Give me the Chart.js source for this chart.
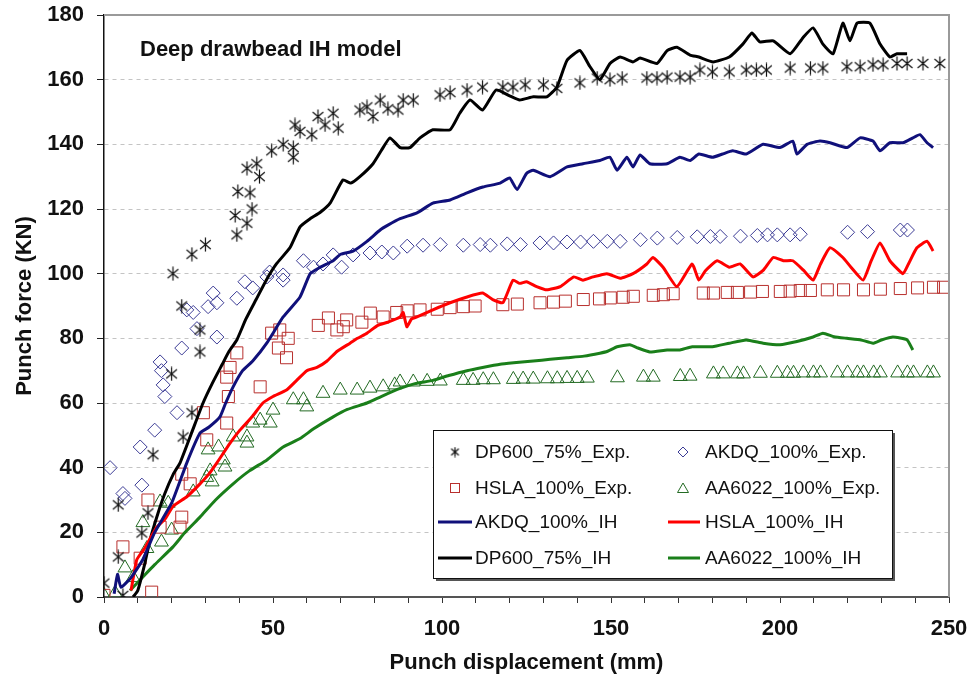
<!DOCTYPE html>
<html>
<head>
<meta charset="utf-8">
<script src="https://cdn.jsdelivr.net/npm/chart.js@4.4.0/dist/chart.umd.min.js"></script>
<style>
  html, body { margin: 0; padding: 0; background: #fff; }
</style>
</head>
<body>
<canvas id="chart" width="976" height="688"></canvas>
<script>
  // ---- data: [displacement mm, force KN] ----
  const dp600Exp = [[0,4.3],[4.2,12.4],[4.2,28.5],[5.6,0.5],[11.2,19.8],[13,26],[14.5,44],[20,69],[20.4,100],[23,90],[23.4,49.5],[26,57],[26,106],[28.4,75.8],[28.4,82.6],[30,109],[38.8,118],[39.3,112],[39.6,125.4],[42.3,115.6],[42.3,132.6],[43.2,125],[43.8,120],[45.2,134],[46,130],[49.6,138],[53,140],[56,139],[56,136],[56.5,146],[58,144],[61.5,143],[63.3,148.6],[65.4,146],[67.8,149.6],[69.3,145],[75.7,150.6],[77.8,151.6],[79.6,148.6],[81.7,153.7],[84,151],[87,150.6],[88.5,153.7],[91.5,153.7],[99.4,155.3],[102.4,156],[107.4,156.8],[112,157.7],[118,157.7],[121,157.7],[124.6,158.4],[130,158.4],[134,157.3],[140.8,159],[145.9,160.5],[149.7,160],[153.3,160.5],[160.6,160.5],[163.6,160.5],[166.6,160.8],[170.4,160.8],[173.4,160.8],[176.3,163],[180,162.4],[185,162.4],[190,163],[193,163],[196,163],[203,163.6],[209,163.6],[212.7,163.6],[219.8,164],[223.7,164],[227.5,164.6],[230.5,164.6],[234.6,165],[237.6,165],[242.3,165],[247.3,165]];
  const akdqExp = [[1.8,40],[5.6,32],[6.2,30.5],[10.7,46.4],[11.2,34.6],[15,51.6],[16.6,72.7],[17,70],[17.5,65.6],[18,62],[21.6,57],[23,77],[24.5,88.8],[26.4,88],[27.5,83],[30.8,89.8],[32.3,94],[33.4,91],[33.4,80.4],[39.3,92.4],[41.7,97.5],[44,95.6],[48.2,99],[49,100.5],[53,99.6],[53,98],[59,104],[62,102],[64.8,103],[67.8,105.8],[70.3,102],[73.7,105.8],[78.7,106.4],[82.2,106.7],[85.6,106.4],[89.7,108.5],[94.4,108.8],[99.5,109],[106.3,108.8],[111.3,109],[114.3,108.8],[119.3,109.2],[123.2,109],[129,109.5],[133,109.5],[137,109.8],[141,109.8],[144.8,110],[148.9,110],[152.7,110],[158.7,110.5],[163.7,111],[169.6,111.2],[175.5,111.4],[179.4,111.5],[182.3,111.5],[188.3,111.6],[193.3,111.8],[196.3,112],[199.2,112],[203,112],[206,112.2],[220,112.8],[225.9,113],[235.6,113.5],[237.7,113.5]];
  const hslaExp = [[0,0.5],[5.6,15.5],[10.7,12],[13,30],[14.1,1.5],[16.6,21.6],[22.5,21.6],[23,24.7],[23,38],[25.5,35],[29.4,57],[30.4,48.6],[36.3,53.8],[36.3,68],[36.8,62],[37.3,71],[39.3,75.5],[46.2,65],[49.6,81.6],[51.6,77],[52,82.6],[54,74],[54.5,80],[63.4,84],[66.4,86.3],[68.9,82.6],[70.8,83.6],[71.8,85.7],[76.3,85],[78.8,87.8],[82.6,86.6],[86.6,88],[89.7,88.5],[93.5,88.8],[98.6,89],[102.4,89.5],[106.3,89.8],[109.8,90],[118,90.4],[122.3,90.6],[129,91],[133,91.2],[136.5,91.5],[141.8,92],[146.6,92.2],[149.8,92.5],[153.6,92.7],[156.6,93],[162.5,93.3],[165.5,93.5],[168.4,93.8],[177.3,94],[180.3,94],[184.4,94.2],[187.4,94.2],[191.3,94.3],[194.8,94.5],[200.1,94.5],[203,94.6],[206,94.8],[209,94.8],[214,95],[218.8,95],[224.7,95],[229.7,95.2],[235.6,95.4],[240.7,95.6],[245.4,95.8],[248.4,95.8]];
  const aa6022Exp = [[0,0.5],[3.3,1.2],[6.2,9],[8.6,6],[11.5,23],[12.7,15],[16.6,29.4],[17,17],[19,29],[20,20.7],[26.4,32.5],[30.4,37],[30.8,45.5],[31.4,39],[32,35.6],[33.9,46.4],[35.3,42.4],[35.8,40.2],[38.2,49.5],[42.3,47.6],[42.3,49.5],[44,53.8],[46.2,54.7],[49.2,53.8],[50,57.8],[56,61],[59,61],[60,58.8],[64.8,63],[69.9,64],[74.9,64],[78.7,64.6],[82.6,65],[86,65.6],[87.6,66.5],[91.5,66.5],[95.6,66.7],[99.5,66.8],[106.3,67],[109.2,67],[112.2,67.2],[115.2,67.2],[121.1,67.3],[124,67.4],[127,67.4],[131.2,67.5],[134.1,67.5],[137,67.6],[140,67.6],[143,67.7],[151.9,67.8],[159.6,68],[162.5,68],[170.5,68.2],[173.4,68.3],[180.3,69],[183.2,69],[187.4,69],[189.2,69],[194.2,69.2],[199.2,69.2],[202.2,69.2],[204,69.2],[206.9,69.3],[209.9,69.3],[212,69.3],[217,69.3],[220,69.3],[222.9,69.3],[224.7,69.3],[227.7,69.3],[229.7,69.3],[234.8,69.3],[237.7,69.3],[239.5,69.3],[243.6,69.3],[245.4,69.3]];

  const akdqIH = [[3,1],[4,7],[5,3],[8,6],[11.5,11.6],[15,20],[20,29],[24.5,41.5],[28.4,50.7],[31,52.5],[34.3,55.7],[36,60],[38.2,65],[41,70],[44,73],[48.2,78.6],[53,86.6],[58,92.8],[61,100],[64,102],[67.8,104],[70,106],[73.7,107],[77.8,110],[81.7,113.5],[84,115],[87.6,117],[92.6,118.8],[97.3,121.8],[102.4,122.8],[107.4,125],[112.1,126.8],[117.2,128],[120,129.6],[122.2,126],[125,131],[127,132],[132,130],[137,133],[141.7,134],[146.7,135],[149.7,136],[151.8,132],[154.7,136],[156.5,133],[158.6,136.7],[161.5,134],[166.6,134],[170.4,136],[173.4,135],[176,137],[180,136],[183,137],[186,138],[190,137],[195,140],[200,139],[203.8,141],[205,137],[208,140],[211.8,141],[214.8,140.5],[219.8,139],[223.7,142],[227.5,141],[229.6,138],[232.5,140.5],[236.4,140.5],[239.3,142],[241.4,143],[243.5,140.5],[245.3,139]];
  const hslaIH = [[8,2],[9.7,11.5],[12,15],[15.6,21.6],[18,24],[20.4,28],[24.5,31],[28.4,35],[31,38],[33.4,41.5],[37.3,47.6],[40.2,51.6],[44,56],[47,60],[50,62],[54,64],[57,67],[60,70],[63,71],[66,73],[69,76],[72.8,78.5],[75,80],[77.8,81.6],[81,84],[84,85],[87.6,86.6],[88.5,88],[89.6,83.6],[91,86],[92.6,86.6],[97.3,88.8],[102.4,91],[107.4,92.8],[112,94],[115,92],[118,91],[121,98],[123,97],[125,97.5],[128,96],[131,95],[135,96],[139,99],[141.7,98],[144.7,99],[148.8,100],[152.7,98.6],[156.5,100],[160.6,103],[162.4,105],[165.4,102],[169.5,96],[174,103],[176,98],[178,101],[181.4,104],[185,102],[188.2,103],[192,99],[195,101],[198,105],[201,104],[203.8,104],[207,101],[209.8,98],[212,103],[214.8,108],[218.6,105],[221,102],[224.6,98],[227,104],[229.6,109.5],[232.5,104],[236.4,100],[238,103],[240.5,108],[243.5,110],[245.3,107]];
  const dp600IH = [[8.6,0],[10,2],[12,10],[13.6,17.6],[16,26],[18,32],[20.5,38],[22.5,41.5],[26,51],[29.3,60],[32,66],[35,72],[37,76],[39.3,79.5],[42,86],[45,92],[48,98],[51,103],[55,108],[58,114.5],[61,117],[64,119],[67,122],[70.7,129],[73,128],[75.7,130],[79.6,134],[82,138],[84.6,142],[87.6,139],[90.5,139],[93.5,142],[97.3,144.5],[102.4,144.5],[105.3,149.7],[108.3,153.7],[112,150.6],[116,156.8],[120,155],[123,153.7],[127,154.7],[131,154.7],[134,157.7],[137,166],[140.8,169],[143.8,164],[146.7,160],[149.7,165],[152.7,167],[156.5,165.5],[158.6,166.7],[163.6,165],[166.6,169],[169.5,170],[173.4,167.6],[176,167],[180.2,165.5],[185,167],[189,171],[191.7,174.4],[194,171.7],[198,172],[203,168],[206.8,173],[209.8,176],[212.7,171],[215.7,168],[218.6,177.5],[220.7,172],[222.8,177.5],[226.6,177.5],[229.6,171],[232.5,167],[234.6,168],[237.6,168]];
  const aa6022IH = [[7.7,2],[11.5,6.2],[15,10],[20.4,15.5],[24,20],[28.4,24.7],[33,30],[38.2,35],[43,39],[48.2,42.4],[53,46.4],[58,49],[62,52],[67.8,55.7],[72,58],[77.8,60],[82,62],[87.6,64.5],[92,66],[97.3,67],[102,68.5],[107.4,70],[112,71],[117.2,72],[122,72.5],[127,73],[132,73.5],[137,74],[142,74.5],[146.7,75.4],[149,76],[151.8,77.4],[155.6,78],[158,77],[161.5,75.8],[166.6,76.4],[170.4,76.4],[174,77.4],[180,77.4],[185,78.5],[190,79.5],[195,78.5],[200,78],[205,79],[209.8,80.4],[212.7,81.6],[216,80.5],[219.8,80],[224,79.5],[227.5,78.5],[230,79.5],[233.4,80.4],[237.6,79.5],[239.3,76.4]];

  const xLabelValues = [0, 50, 100, 150, 200, 250];
  const legendOrder = [
    'DP600_75%_Exp.', 'AKDQ_100%_Exp.',
    'HSLA_100%_Exp.', 'AA6022_100%_Exp.',
    'AKDQ_100%_IH', 'HSLA_100%_IH',
    'DP600_75%_IH', 'AA6022_100%_IH'
  ];

  const FONT = '"Liberation Sans", Arial, sans-serif';
  const toXY = arr => arr.map(p => ({ x: p[0], y: p[1] }));

  // asterisk marker (vertical bar + X)
  function asterisk(size, color) {
    const c = document.createElement('canvas');
    c.width = c.height = size;
    const g = c.getContext('2d');
    const m = size / 2, r = size / 2 - 0.5;
    g.strokeStyle = color;
    g.lineWidth = 1.2;
    g.beginPath();
    g.moveTo(m, m - r); g.lineTo(m, m + r);
    const a = Math.PI / 4.5;
    g.moveTo(m - r * Math.cos(a), m - r * Math.sin(a)); g.lineTo(m + r * Math.cos(a), m + r * Math.sin(a));
    g.moveTo(m - r * Math.cos(a), m + r * Math.sin(a)); g.lineTo(m + r * Math.cos(a), m - r * Math.sin(a));
    g.stroke();
    return c;
  }
  const starBig = asterisk(15, '#111');
  const starSmall = asterisk(11, '#111');

  function expSet(label, data, style, color, radius) {
    return {
      label, data: toXY(data), showLine: false, order: 2,
      pointStyle: style, pointRadius: radius, pointBorderColor: color,
      pointBackgroundColor: 'rgba(0,0,0,0)', pointBorderWidth: 1
    };
  }
  function ihSet(label, data, color) {
    return {
      label, data: toXY(data), showLine: true, order: 1,
      borderColor: color, borderWidth: 3, pointRadius: 0, tension: 0.15, fill: false
    };
  }

  const datasets = [
    expSet('DP600_75%_Exp.', dp600Exp, starBig, '#111', 7),
    expSet('AKDQ_100%_Exp.', akdqExp, 'rectRot', '#3c3c96', 7),
    expSet('HSLA_100%_Exp.', hslaExp, 'rect', '#b8302e', 8.5),
    expSet('AA6022_100%_Exp.', aa6022Exp, 'triangle', '#246b24', 8),
    ihSet('AKDQ_100%_IH', akdqIH, '#10107a'),
    ihSet('HSLA_100%_IH', hslaIH, '#ff0000'),
    ihSet('DP600_75%_IH', dp600IH, '#000000'),
    ihSet('AA6022_100%_IH', aa6022IH, '#1a7f1a')
  ];

  function drawMarker(ctx, ds, x, y) {
    const c = ds.pointBorderColor;
    ctx.save();
    ctx.strokeStyle = c; ctx.lineWidth = 1;
    if (ds.pointStyle === starBig) {
      ctx.drawImage(starSmall, x - 5.5, y - 5.5);
    } else if (ds.pointStyle === 'rectRot') {
      ctx.beginPath(); ctx.moveTo(x, y - 5); ctx.lineTo(x + 5, y); ctx.lineTo(x, y + 5); ctx.lineTo(x - 5, y); ctx.closePath(); ctx.stroke();
    } else if (ds.pointStyle === 'rect') {
      ctx.strokeRect(x - 4.5, y - 4.5, 9, 9);
    } else if (ds.pointStyle === 'triangle') {
      ctx.beginPath(); ctx.moveTo(x, y - 5); ctx.lineTo(x + 5.5, y + 4.5); ctx.lineTo(x - 5.5, y + 4.5); ctx.closePath(); ctx.stroke();
    }
    ctx.restore();
  }

  const decor = {
    id: 'decor',
    beforeDraw(chart) {
      const ctx = chart.ctx;
      ctx.save(); ctx.fillStyle = '#fff'; ctx.fillRect(0, 0, chart.width, chart.height); ctx.restore();
    },
    afterDraw(chart) {
      const { ctx, chartArea: a } = chart;
      ctx.save();
      // top and right frame
      ctx.strokeStyle = '#9a9a9a'; ctx.lineWidth = 2;
      ctx.beginPath(); ctx.moveTo(a.left, a.top); ctx.lineTo(a.right, a.top); ctx.lineTo(a.right, a.bottom); ctx.stroke();
      // inner title
      ctx.fillStyle = '#111';
      ctx.font = 'bold 22px ' + FONT;
      ctx.textBaseline = 'alphabetic';
      ctx.fillText('Deep drawbead IH model', 140, 56);
      // legend box
      const L = 433, T = 430, R = 892, B = 578;
      ctx.fillStyle = '#555'; ctx.fillRect(L + 3, T + 3, R - L, B - T);
      ctx.fillStyle = '#fff'; ctx.fillRect(L, T, R - L, B - T);
      ctx.strokeStyle = '#111'; ctx.lineWidth = 1; ctx.strokeRect(L + 0.5, T + 0.5, R - L, B - T);
      const rows = [452, 488, 522, 558];
      const cols = [{ mk: 455, ln: [438, 472], tx: 475 }, { mk: 683, ln: [668, 700], tx: 705 }];
      ctx.font = '19px ' + FONT; ctx.textBaseline = 'middle'; ctx.fillStyle = '#111';
      legendOrder.forEach((lab, i) => {
        const ds = chart.data.datasets.find(d => d.label === lab);
        const y = rows[Math.floor(i / 2)], col = cols[i % 2];
        if (ds.showLine) {
          ctx.strokeStyle = ds.borderColor; ctx.lineWidth = 3;
          ctx.beginPath(); ctx.moveTo(col.ln[0], y); ctx.lineTo(col.ln[1], y); ctx.stroke();
        } else {
          drawMarker(ctx, ds, col.mk, y);
        }
        ctx.fillText(lab, col.tx, y + 1);
      });
      ctx.restore();
    }
  };

  new Chart(document.getElementById('chart'), {
    type: 'scatter',
    data: { datasets },
    options: {
      responsive: false,
      animation: false,
      layout: { padding: { left: 0, right: 27, top: 15, bottom: 0 } },
      plugins: { legend: { display: false }, tooltip: { enabled: false } },
      scales: {
        x: {
          type: 'linear', min: 0, max: 250,
          ticks: {
            stepSize: 10, autoSkip: false, maxRotation: 0, padding: 13, color: '#111',
            font: { family: FONT, size: 22, weight: 'bold' },
            callback: v => xLabelValues.includes(v) ? String(v) : ''
          },
          grid: { drawOnChartArea: false, drawTicks: true, tickLength: 6, tickColor: '#333', tickWidth: 1 },
          border: { color: '#555', width: 2 },
          title: {
            display: true, text: 'Punch displacement (mm)', color: '#111',
            font: { family: FONT, size: 22, weight: 'bold' }, padding: { top: 0, bottom: 12 }
          },
          afterFit: s => { s.height = 91; s.paddingLeft = 0; s.paddingRight = 0; }
        },
        y: {
          type: 'linear', min: 0, max: 180,
          ticks: {
            stepSize: 20, padding: 13, color: '#111',
            font: { family: FONT, size: 22, weight: 'bold' }
          },
          grid: {
            color: c => (c.tick && (c.tick.value === 0 || c.tick.value === 180)) ? 'rgba(0,0,0,0)' : '#c4c4c4',
            tickColor: '#222', tickLength: 7, tickWidth: 1, tickBorderDash: []
          },
          border: { color: '#111', width: 1.5, dash: [4, 4] },
          title: {
            display: true, text: 'Punch force (KN)', color: '#111',
            font: { family: FONT, size: 22, weight: 'bold' }, padding: { top: 12, bottom: 0 }
          },
          afterFit: s => { s.width = 104; s.paddingTop = 0; s.paddingBottom = 0; }
        }
      }
    },
    plugins: [decor]
  });
</script>
</body>
</html>
